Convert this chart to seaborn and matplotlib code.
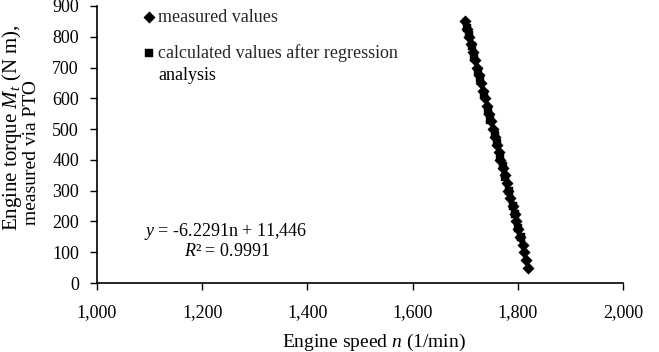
import matplotlib
matplotlib.use('Agg')
import matplotlib.pyplot as plt
import numpy as np
import pandas as pd
import seaborn as sns

# measured values (engine speed, torque)
meas_n = [1700, 1704, 1707, 1711, 1715, 1719, 1722, 1726, 1730, 1734, 1737, 1741, 1745,
          1749, 1752, 1756, 1760, 1764, 1767, 1771, 1775, 1779, 1782, 1786, 1790, 1794,
          1797, 1801, 1805, 1809, 1812, 1816, 1820]
meas_M = [850, 825, 800, 775, 750, 725, 700, 675, 650, 625, 600, 575, 550,
          525, 500, 475, 450, 425, 400, 375, 350, 325, 300, 275, 250, 225,
          200, 175, 150, 125, 100, 75, 50]

# calculated values after regression
calc_n = [1703, 1707, 1712, 1717, 1724, 1728, 1735, 1744, 1748, 1756, 1760, 1766,
          1771, 1776, 1783, 1791, 1794, 1801, 1806]
calc_M = [830, 805, 770, 735, 690, 665, 615, 560, 530, 480, 455, 410,
          380, 345, 300, 250, 225, 180, 150]

x_ticks = [1000, 1200, 1400, 1600, 1800, 2000]
y_ticks = [0, 100, 200, 300, 400, 500, 600, 700, 800, 900]

eq_text = "$y$ = -6.2291n + 11,446"
r2_text = "$R$² = 0.9991"

sns.set_theme(style="ticks")
plt.rcParams['font.family'] = ['Liberation Serif', 'DejaVu Serif']
plt.rcParams['mathtext.fontset'] = 'custom'
plt.rcParams['mathtext.rm'] = 'Liberation Serif'
plt.rcParams['mathtext.it'] = 'Liberation Serif:italic'

df_m = pd.DataFrame({'n': meas_n, 'M': meas_M})
df_c = pd.DataFrame({'n': calc_n, 'M': calc_M})

W, H = 659, 352
fig = plt.figure(figsize=(W / 100, H / 100), dpi=100)
ax = fig.add_axes([97 / W, 1 - 283 / H, 526 / W, 277 / H])

# trend line
sns.regplot(data=df_m, x='n', y='M', ax=ax, scatter=False, ci=None, truncate=True,
            line_kws={'color': 'black', 'lw': 1.2})
sns.scatterplot(data=df_m, x='n', y='M', ax=ax, marker='D', s=34, color='black',
                edgecolor='black', linewidth=0.3, label='measured values', zorder=3)
sns.scatterplot(data=df_c, x='n', y='M', ax=ax, marker='s', s=40, color='black',
                edgecolor='black', linewidth=0.3,
                label='calculated values after regression', zorder=3)

ax.set_xlim(1000, 2000)
ax.set_ylim(0, 900)
ax.set_xticks(x_ticks)
ax.set_yticks(y_ticks)
ax.set_xticklabels([f"{v:,}" for v in x_ticks])
ax.tick_params(axis='both', labelsize=13, length=5, width=1, color='black',
               labelcolor='black', direction='out')
ax.tick_params(axis='x', pad=10)
ax.tick_params(axis='y', pad=8)
for s in ['left', 'bottom']:
    ax.spines[s].set_color('black')
    ax.spines[s].set_linewidth(1.2)
sns.despine(ax=ax)
ax.set_xlabel('')
ax.set_ylabel('')

# axis titles
fig.text(374 / W, 1 - 342 / H, "Engine speed $n$ (1/min)", fontsize=14, color='black',
         ha='center', va='center')
fig.text(12 / W, 1 - 128 / H, "Engine torque $M_t$ (N m),", fontsize=15, color='black',
         ha='center', va='center', rotation=90)
fig.text(31 / W, 1 - 153 / H, "measured via PTO", fontsize=14, color='black',
         ha='center', va='center', rotation=90)

leg = ax.legend(loc='upper left', bbox_to_anchor=(141 / W, 1 - 9 / H),
                bbox_transform=fig.transFigure, frameon=False, fontsize=13,
                handletextpad=0.05, labelspacing=1.0, handlelength=0.9,
                borderaxespad=0, borderpad=0)
fig.text(158 / W, 1 - 76 / H, "analysis", fontsize=13, color='black',
         ha='left', va='center')

fig.text(226 / W, 1 - 231 / H, eq_text, fontsize=13, color='black',
         ha='center', va='center')
fig.text(227 / W, 1 - 252 / H, r2_text, fontsize=13, color='black',
         ha='center', va='center')

fig.savefig('out.png', dpi=100)
